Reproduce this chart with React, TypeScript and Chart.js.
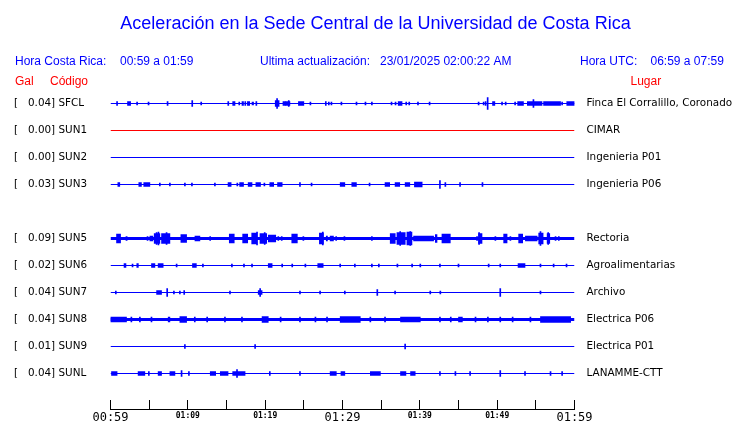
import React, { useEffect, useRef } from "react";
import { Chart, registerables } from "chart.js";

Chart.register(...registerables);

// ---------------- Text ----------------
const TITLE = "Aceleración en la Sede Central de la Universidad de Costa Rica";
const HEADER_LOCAL_LABEL = "Hora Costa Rica:";
const HEADER_LOCAL_RANGE = "00:59 a 01:59";
const HEADER_UPDATE_LABEL = "Ultima actualización:";
const HEADER_UPDATE_VALUE = "23/01/2025 02:00:22 AM";
const HEADER_UTC_LABEL = "Hora UTC:";
const HEADER_UTC_RANGE = "06:59 a 07:59";
const COL_GAL = "Gal";
const COL_CODE = "Código";
const COL_PLACE = "Lugar";

// ---------------- Stations ----------------
const STATION_SLOTS = [0, 1, 2, 3, 5, 6, 7, 8, 9, 10];
const STATION_CODES = ["SFCL", "SUN1", "SUN2", "SUN3", "SUN5", "SUN6", "SUN7", "SUN8", "SUN9", "SUNL"];
const STATION_PEAKS = ["0.04", "0.00", "0.00", "0.03", "0.09", "0.02", "0.04", "0.04", "0.01", "0.04"];
const STATION_PLACES = [
  "Finca El Corralillo, Coronado",
  "CIMAR",
  "Ingenieria P01",
  "Ingenieria P06",
  "Rectoria",
  "Agroalimentarias",
  "Archivo",
  "Electrica P06",
  "Electrica P01",
  "LANAMME-CTT",
];

// time axis (minutes after 00:59)
const X_TICK_MINUTES = [0, 5, 10, 15, 20, 25, 30, 35, 40, 45, 50, 55, 60];
const X_TICK_LABELS = ["00:59", "", "01:09", "", "01:19", "", "01:29", "", "01:39", "", "01:49", "", "01:59"];

// ---------------- Traces ----------------
// spikes: [minute, half amplitude (trace units)]
// bursts: [start minute, end minute, half amplitude (trace units)]
const SFCL_SPIKES = [
  [0.85, 2], [3.44, 1.5], [4.92, 1.5], [7.38, 2], [10.57, 3], [11.73, 1.5], [15.23, 2], [16.65, 1.5],
  [17.43, 2], [18.86, 2], [21.54, 5], [23.05, 3], [25.85, 1.5], [27.84, 2], [28.23, 1.5], [28.57, 1.5],
  [29.86, 1.5], [31.81, 1.5], [32.97, 1.5], [33.8, 1.5], [36.34, 1.5], [36.86, 1.5], [38.24, 1.5],
  [38.63, 1.5], [39.76, 1.5], [41.26, 1.5], [47.6, 1.5], [48.25, 1.5], [48.51, 2], [48.77, 6],
  [50.63, 1.5], [51.1, 1.5], [52.32, 1.5], [54.69, 4], [58.4, 1.5],
];
const SFCL_BURSTS = [
  [2.2, 2.6, 2], [15.8, 16.1, 2], [17.0, 17.2, 2], [17.7, 18.0, 2], [18.3, 18.5, 1.5], [21.3, 21.8, 3],
  [22.3, 22.6, 2], [22.6, 23.2, 2], [24.3, 25.0, 2], [37.2, 37.7, 2], [49.4, 49.7, 2], [52.65, 53.4, 2],
  [53.9, 55.8, 2], [56.0, 58.2, 2], [59.0, 60, 2],
];
const SUN1_SPIKES = [];
const SUN1_BURSTS = [];
const SUN2_SPIKES = [];
const SUN2_BURSTS = [];
const SUN3_SPIKES = [
  [6.38, 1.5], [7.68, 1.5], [9.62, 1.5], [10.53, 1.5], [13.5, 1.5], [24.5, 2], [42.6, 4], [43.3, 2],
  [45.2, 2], [48.1, 2], [16.4, 1.5], [19.9, 1.5], [26.0, 1.5], [33.5, 1.5],
];
const SUN3_BURSTS = [
  [0.95, 1.2, 2], [3.66, 4.0, 2], [4.3, 5.09, 2], [15.2, 15.6, 2], [16.7, 17.2, 2], [17.8, 18.3, 2],
  [18.8, 19.4, 2], [20.6, 21.1, 2], [21.6, 22.2, 2], [29.7, 30.3, 2], [31.2, 31.8, 2], [35.5, 36.1, 2],
  [36.8, 37.4, 2], [38.1, 38.7, 2], [39.3, 40.3, 2.5],
];
const SUN5_SPIKES = [
  [4.79, 2], [5.96, 6], [6.2, 6.5], [7.25, 6], [12.89, 2], [18.95, 6.5], [19.94, 6], [21.7, 2], [22.14, 2],
  [24.94, 2], [27.45, 6.5], [29.18, 2], [30.25, 2], [33.8, 2], [37.46, 7], [38.76, 7], [47.4, 2],
  [47.66, 6], [49.77, 2], [51.71, 2], [55.6, 7], [56.6, 6], [57.55, 2], [57.97, 2],
];
const SUN5_BURSTS = [
  [0.78, 1.3, 4.5], [2.0, 2.15, 2], [5.09, 5.48, 2.5], [5.65, 6.38, 5], [6.6, 7.68, 5], [9.1, 9.84, 4],
  [10.92, 11.56, 2.5], [15.36, 16.0, 4.5], [17.09, 17.74, 4.5], [18.26, 18.91, 5.5], [19.33, 20.2, 5],
  [20.41, 21.37, 3.5], [23.44, 24.16, 4.5], [27.01, 27.53, 5.5], [27.9, 28.05, 2.5], [28.4, 28.83, 2.5],
  [36.17, 36.82, 5], [37.04, 38.11, 6], [38.33, 38.98, 6.5], [39.19, 41.78, 2.5], [42.0, 42.22, 4],
  [42.86, 43.94, 4.5], [47.6, 48.04, 5], [50.84, 51.28, 4.5], [52.78, 53.3, 4.5], [53.65, 55.17, 2.5],
  [55.37, 55.94, 5.5], [56.46, 56.8, 5],
];
const SUN6_SPIKES = [
  [2.85, 1.5], [8.55, 1.5], [11.95, 1.5], [15.7, 1.5], [17.26, 1.5], [18.3, 1.5], [22.2, 1.5], [23.5, 1.5],
  [25.2, 1.5], [29.7, 1.5], [31.6, 1.5], [33.8, 1.5], [34.7, 1.5], [37.1, 1.5], [39.0, 1.5], [40.06, 1.5],
  [42.6, 1.5], [45.0, 1.5], [48.9, 1.5], [50.4, 1.5], [55.6, 1.5], [57.3, 1.5], [58.97, 1.5],
];
const SUN6_BURSTS = [
  [1.75, 2.0, 2], [3.4, 3.6, 2], [5.3, 5.74, 2], [6.16, 6.81, 2], [10.6, 11.1, 2], [20.4, 20.9, 2],
  [26.8, 27.5, 2], [52.7, 53.6, 2],
];
const SUN7_SPIKES = [
  [0.69, 1.5], [7.33, 4], [8.2, 1.5], [8.97, 1.5], [9.53, 2], [15.45, 1.5], [19.35, 4], [24.5, 1.5],
  [27.1, 1.5], [30.3, 1.5], [34.5, 3], [36.8, 1.5], [41.35, 1.5], [42.65, 1.5], [50.4, 4], [55.6, 1.5],
];
const SUN7_BURSTS = [[5.96, 6.6, 2], [19.1, 19.6, 2]];
const SUN8_SPIKES = [
  [2.7, 2.5], [3.8, 2.5], [5.3, 2.5], [10.9, 2.5], [24.5, 2.5], [33.6, 2.5], [35.5, 2.5], [42.6, 2.5],
  [47.2, 2.5], [50.4, 2.5], [54.3, 2.5], [12.5, 2.5], [14.8, 2.5], [17.0, 2.5], [22.0, 2.5], [26.5, 2.5],
  [28.0, 2.5], [44.0, 2.5], [48.8, 2.5], [52.0, 2.5],
];
const SUN8_BURSTS = [
  [0, 2.07, 2.5], [7.46, 7.68, 2.5], [8.97, 9.84, 3], [19.6, 20.4, 3], [29.7, 32.3, 3], [37.5, 40.06, 2.5],
  [45.0, 45.5, 2.5], [55.6, 59.5, 3],
];
const SUN9_SPIKES = [[9.62, 2], [18.7, 2], [38.1, 2.5]];
const SUN9_BURSTS = [];
const SUNL_SPIKES = [
  [4.96, 2], [9.19, 3], [10.14, 2], [16.36, 4], [20.6, 2], [24.5, 2], [42.6, 2], [44.6, 2], [46.5, 2],
  [50.4, 3], [53.6, 2], [56.9, 2], [58.4, 2],
];
const SUNL_BURSTS = [
  [0.13, 0.85, 2], [3.57, 4.44, 2], [6.16, 6.6, 2], [7.68, 8.33, 2], [12.9, 13.6, 2], [14.2, 15.2, 2],
  [15.8, 17.4, 2], [28.4, 29.2, 2], [29.8, 30.3, 2], [33.6, 34.9, 2], [37.5, 38.2, 2], [38.8, 39.4, 2],
];

const TRACE_SPIKES = [SFCL_SPIKES, SUN1_SPIKES, SUN2_SPIKES, SUN3_SPIKES, SUN5_SPIKES, SUN6_SPIKES, SUN7_SPIKES, SUN8_SPIKES, SUN9_SPIKES, SUNL_SPIKES];
const TRACE_BURSTS = [SFCL_BURSTS, SUN1_BURSTS, SUN2_BURSTS, SUN3_BURSTS, SUN5_BURSTS, SUN6_BURSTS, SUN7_BURSTS, SUN8_BURSTS, SUN9_BURSTS, SUNL_BURSTS];

// ---------------- Styles ----------------
const BLUE = "#0000ff";
const RED = "#ff0000";
const STATION_COLORS = [BLUE, RED, BLUE, BLUE, BLUE, BLUE, BLUE, BLUE, BLUE, BLUE];
const STATION_LINE_WIDTHS = [1, 1, 1, 1, 3, 1, 1, 3, 1, 1];
const UNITS_PER_SLOT = 27; // trace units between two station rows
const PX_PER_UNIT = 1;
const SANS = '"Liberation Sans", Arial, sans-serif';
const LABEL_FONT = { family: '"DejaVu Sans"', size: 10.4 };

const headerPlugin = {
  id: "header",
  afterDraw(chart: any) {
    const ctx = chart.ctx;
    ctx.save();
    ctx.textBaseline = "alphabetic";
    ctx.fillStyle = BLUE;
    ctx.font = `18px ${SANS}`;
    ctx.textAlign = "center";
    ctx.fillText(TITLE, 375.5, 28.5);
    ctx.textAlign = "left";
    ctx.font = `12px ${SANS}`;
    ctx.fillText(HEADER_LOCAL_LABEL, 15, 64.5);
    ctx.fillText(HEADER_LOCAL_RANGE, 120, 64.5);
    ctx.fillText(HEADER_UPDATE_LABEL, 260, 64.5);
    ctx.fillText(HEADER_UPDATE_VALUE, 380, 64.5);
    ctx.fillText(HEADER_UTC_LABEL, 580, 64.5);
    ctx.fillText(HEADER_UTC_RANGE, 650.5, 64.5);
    ctx.fillStyle = RED;
    ctx.fillText(COL_GAL, 15, 84.5);
    ctx.fillText(COL_CODE, 50, 84.5);
    ctx.fillText(COL_PLACE, 630.5, 84.5);
    // inward tick marks on the time axis
    const xs = chart.scales.x;
    const bottom = chart.chartArea.bottom;
    ctx.strokeStyle = "#000";
    ctx.lineWidth = 1;
    ctx.beginPath();
    for (const m of X_TICK_MINUTES) {
      const px = Math.round(xs.getPixelForValue(m) - 0.5) + 0.5;
      ctx.moveTo(px, bottom);
      ctx.lineTo(px, bottom - 9);
    }
    ctx.stroke();
    ctx.restore();
  },
};

function slotLabelLeft(value: number) {
  const i = STATION_SLOTS.indexOf(Math.round(value / UNITS_PER_SLOT));
  return i < 0 ? "" : `[   ${STATION_PEAKS[i]}] ${STATION_CODES[i]}`;
}
function slotLabelRight(value: number) {
  const i = STATION_SLOTS.indexOf(Math.round(value / UNITS_PER_SLOT));
  return i < 0 ? "" : STATION_PLACES[i];
}

function buildDatasets() {
  const datasets: any[] = [];
  STATION_SLOTS.forEach((slot, i) => {
    const base = slot * UNITS_PER_SLOT;
    const color = STATION_COLORS[i];
    datasets.push({
      type: "line",
      data: [{ x: 0, y: base }, { x: 60, y: base }],
      borderColor: color,
      borderWidth: STATION_LINE_WIDTHS[i],
      pointRadius: 0,
      xAxisID: "x",
      yAxisID: "y",
    });
    const spikes = TRACE_SPIKES[i];
    if (spikes.length) {
      datasets.push({
        type: "bar",
        indexAxis: "x",
        grouped: false,
        barThickness: 1,
        backgroundColor: color,
        data: spikes.map(([t, a]) => ({ x: t, y: [base - a, base + a] })),
        xAxisID: "x",
        yAxisID: "y",
      });
    }
    const bursts = TRACE_BURSTS[i];
    const amps = Array.from(new Set(bursts.map((b) => b[2])));
    amps.forEach((amp) => {
      datasets.push({
        type: "bar",
        indexAxis: "y",
        grouped: false,
        barThickness: 2 * amp * PX_PER_UNIT,
        backgroundColor: color,
        data: bursts.filter((b) => b[2] === amp).map(([t0, t1]) => ({ y: base, x: [t0, t1] })),
        xAxisID: "x",
        yAxisID: "y",
      });
    });
  });
  return datasets;
}

export default function App() {
  const ref = useRef<HTMLCanvasElement>(null);
  useEffect(() => {
    document.body.style.margin = "0";
    const canvas = ref.current!;
    const slotTicks = (scale: any) => {
      scale.ticks = STATION_SLOTS.map((s) => ({ value: s * UNITS_PER_SLOT }));
    };
    const chart = new Chart(canvas, {
      type: "bar",
      data: { datasets: buildDatasets() },
      plugins: [headerPlugin],
      options: {
        animation: false,
        responsive: false,
        events: [],
        layout: { padding: { left: 14, top: 90, right: 0, bottom: 0 } },
        plugins: { legend: { display: false }, tooltip: { enabled: false }, title: { display: false } },
        scales: {
          x: {
            type: "linear",
            position: "bottom",
            min: 0,
            max: 60,
            offset: false,
            stacked: false,
            grid: { display: false, drawTicks: false, offset: false },
            border: { display: true, color: "#000", width: 1 },
            afterBuildTicks: (scale: any) => {
              scale.ticks = X_TICK_MINUTES.map((m) => ({ value: m }));
            },
            afterFit: (scale: any) => {
              scale.height = 14;
            },
            ticks: {
              autoSkip: false,
              maxRotation: 0,
              minRotation: 0,
              padding: 2,
              color: "#000",
              font: (ctx: any) => {
                const v = ctx.tick ? ctx.tick.value : 0;
                return v % 30 === 0
                  ? { family: '"DejaVu Sans Mono"', size: 12 }
                  : { family: '"DejaVu Sans Mono"', size: 8, weight: "bold" };
              },
              callback: (value: any) => {
                const i = X_TICK_MINUTES.indexOf(Number(value));
                return i < 0 ? "" : X_TICK_LABELS[i];
              },
            },
          },
          y: {
            type: "linear",
            position: "left",
            reverse: true,
            min: -13.5,
            max: 305.5,
            offset: false,
            stacked: false,
            grid: { display: false, drawTicks: false, offset: false },
            border: { display: false },
            afterBuildTicks: slotTicks,
            afterFit: (scale: any) => {
              scale.width = 96.5;
              scale.paddingTop = 0;
              scale.paddingBottom = 0;
            },
            ticks: {
              crossAlign: "far",
              padding: 0,
              color: "#000",
              font: LABEL_FONT,
              callback: (value: any) => slotLabelLeft(Number(value)),
            },
          },
          y2: {
            type: "linear",
            position: "right",
            reverse: true,
            min: -13.5,
            max: 305.5,
            offset: false,
            grid: { display: false, drawTicks: false },
            border: { display: false },
            afterBuildTicks: slotTicks,
            afterFit: (scale: any) => {
              scale.width = 165.5;
              scale.paddingTop = 0;
              scale.paddingBottom = 0;
            },
            ticks: {
              crossAlign: "near",
              padding: 12,
              color: "#000",
              font: LABEL_FONT,
              callback: (value: any) => slotLabelRight(Number(value)),
            },
          },
        },
      } as any,
    });
    return () => chart.destroy();
  }, []);
  return <canvas ref={ref} width={740} height={423} style={{ display: "block" }} />;
}
